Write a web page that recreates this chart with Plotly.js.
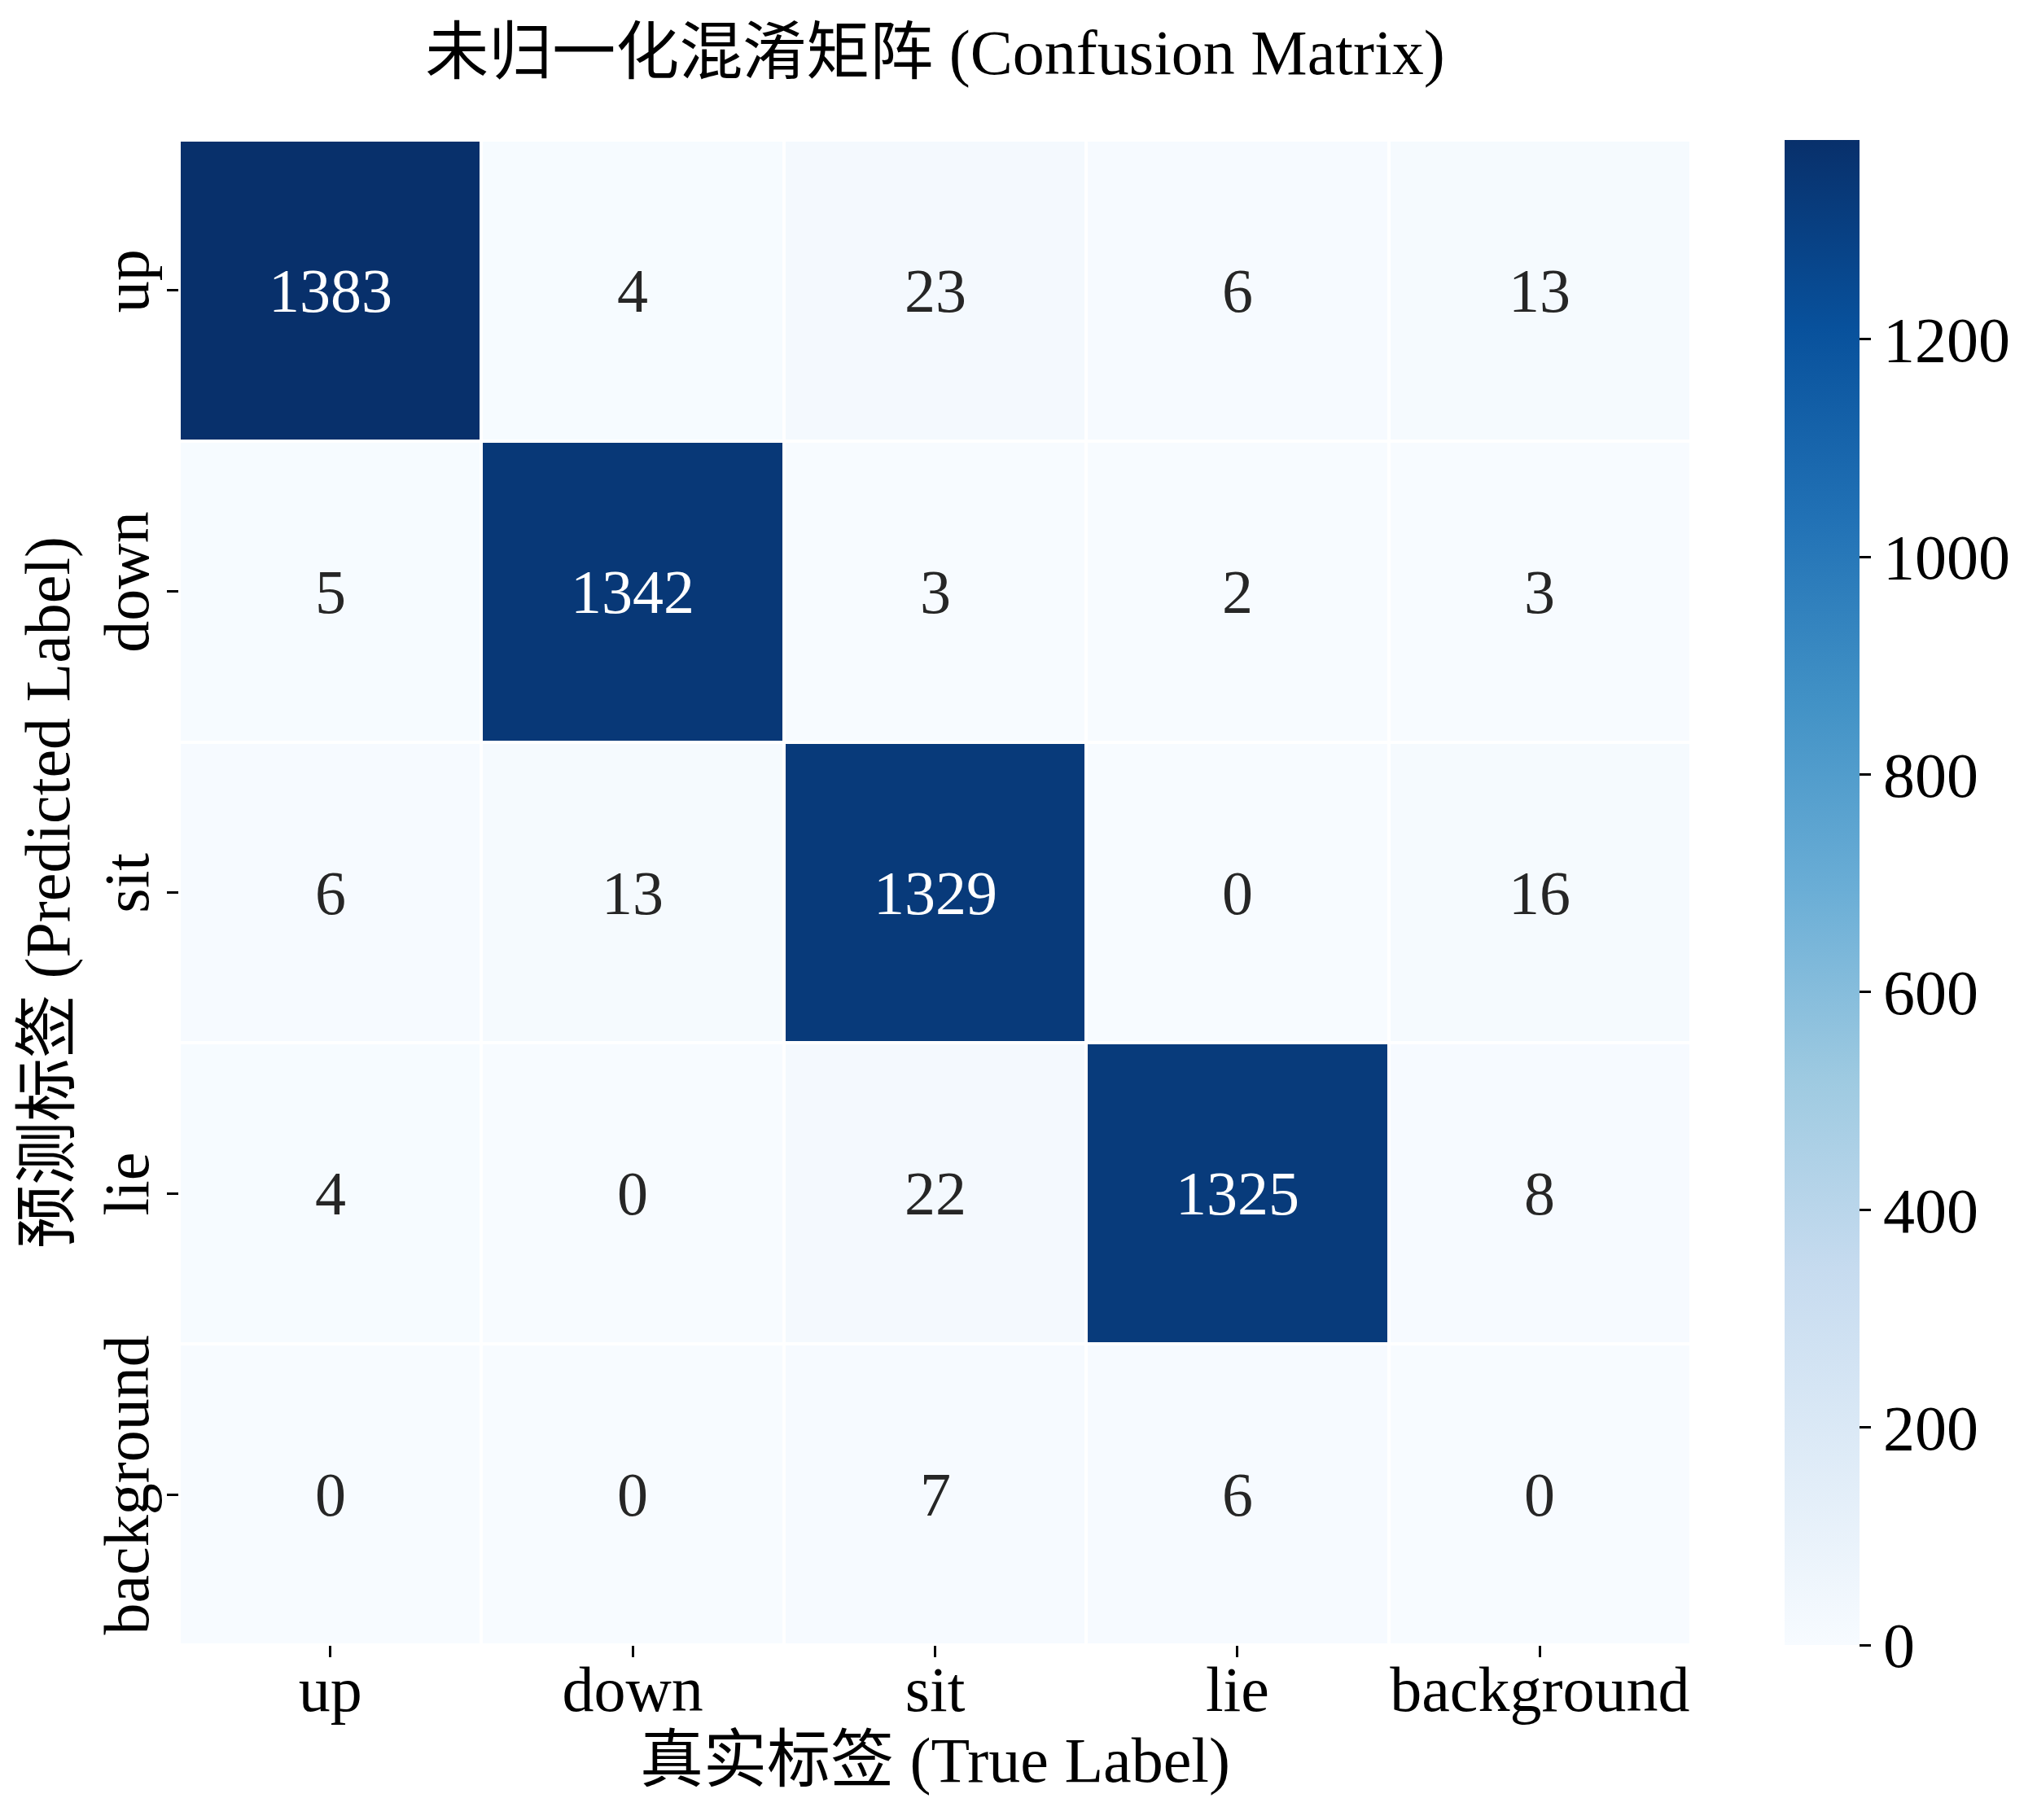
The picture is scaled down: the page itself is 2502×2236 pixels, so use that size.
<!DOCTYPE html>
<html>
<head>
<meta charset="utf-8">
<script src="https://cdn.plot.ly/plotly-3.0.1.min.js"></script>
<style>
  html, body { margin: 0; padding: 0; background: #fff; }
</style>
</head>
<body>
<div id="myDiv"></div>
<script>
// class names (true label on x, predicted label on y)
var labels = ["up", "down", "sit", "lie", "background"];

// rows = predicted, columns = true
var rowUp = [1383, 4, 23, 6, 13];
var rowDown = [5, 1342, 3, 2, 3];
var rowSit = [6, 13, 1329, 0, 16];
var rowLie = [4, 0, 22, 1325, 8];
var rowBackground = [0, 0, 7, 6, 0];

var cbTicks = [0, 200, 400, 600, 800, 1000, 1200];

var z = [rowUp, rowDown, rowSit, rowLie, rowBackground];
var zmax = Math.max.apply(null, z.map(function (r) { return Math.max.apply(null, r); }));

// matplotlib "Blues"
var blues = [
    [0.000, "#f7fbff"],
    [0.125, "#deebf7"],
    [0.250, "#c6dbef"],
    [0.375, "#9ecae1"],
    [0.500, "#6baed6"],
    [0.625, "#4292c6"],
    [0.750, "#2171b5"],
    [0.875, "#08519c"],
    [1.000, "#08306b"]
];

var font = "'Liberation Serif', 'Noto Sans CJK SC', serif";

heat = {
    x: labels,
    y: labels,
    z: z,
    type: "heatmap",
    colorscale: blues,
    zmin: 0,
    zmax: zmax,
    xgap: 4,
    ygap: 4,
    hoverinfo: "none",
    colorbar: {
        x: 1.062,
        xanchor: "left",
        xpad: 0,
        ypad: 0,
        y: 0.5,
        yanchor: "middle",
        len: 1,
        thickness: 92,
        outlinewidth: 0,
        ticks: "outside",
        ticklen: 14,
        tickwidth: 3,
        tickcolor: "#000",
        tickvals: cbTicks,
        tickfont: { family: font, size: 78, color: "#000" }
    }
};

// cell labels, white on dark cells
var notes = [];
z.forEach(function (row, i) {
    row.forEach(function (v, j) {
        notes.push({
            x: labels[j],
            y: labels[i],
            text: String(v),
            showarrow: false,
            font: { family: font, size: 76, color: v > zmax / 2 ? "#ffffff" : "#262626" }
        });
    });
});

Plotly.newPlot('myDiv', {
    "data": [heat],
    "layout": {
        width: 2502,
        height: 2236,
        paper_bgcolor: "#fff",
        plot_bgcolor: "#fff",
        margin: { l: 220, r: 425, t: 172, b: 215 },
        font: { family: font, color: "#000" },
        title: {
            text: "未归一化混淆矩阵 (Confusion Matrix)",
            font: { family: font, size: 78, color: "#000" },
            x: 0.5,
            xref: "paper",
            xanchor: "center",
            y: 1 - 64 / 2236,
            yref: "container",
            yanchor: "middle"
        },
        xaxis: {
            type: "category",
            showgrid: false,
            zeroline: false,
            showline: false,
            ticks: "outside",
            ticklen: 14,
            tickwidth: 3,
            tickcolor: "#000",
            ticklabelstandoff: -28,
            tickfont: { family: font, size: 78, color: "#000" },
            title: {
                text: "真实标签 (True Label)",
                font: { family: font, size: 78, color: "#000" },
                standoff: 12
            }
        },
        yaxis: {
            type: "category",
            autorange: "reversed",
            showgrid: false,
            zeroline: false,
            showline: false,
            ticks: "outside",
            ticklen: 14,
            tickwidth: 3,
            tickcolor: "#000",
            tickangle: -90,
            ticklabelstandoff: -8,
            tickfont: { family: font, size: 78, color: "#000" },
            title: {
                text: "预测标签 (Predicted Label)",
                font: { family: font, size: 78, color: "#000" },
                standoff: 0
            }
        },
        annotations: notes,
        showlegend: false,
        hovermode: false
    },
    "config": {
        displayModeBar: false,
        staticPlot: true
    }
});
</script>
</body>
</html>
